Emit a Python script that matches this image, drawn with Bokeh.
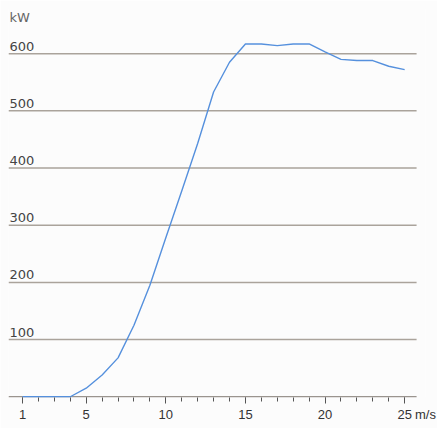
from bokeh.plotting import figure
from bokeh.models import FixedTicker, ColumnDataSource
from bokeh.core.properties import value
from bokeh.embed import file_html
from bokeh.resources import INLINE

wind_speed = [1, 2, 3, 4, 5, 6, 7, 8, 9, 10, 11, 12, 13, 14, 15, 16, 17, 18, 19, 20, 21, 22, 23, 24, 25]
power_kw = [0, 0, 0, 0, 15, 38, 68, 125, 195, 278, 360, 443, 533, 585, 617, 617, 614, 617, 617, 603, 590, 588, 588, 578, 572]
x_ticks = [1, 5, 10, 15, 20, 25]
x_minor = list(range(1, 26))
y_ticks = [100, 200, 300, 400, 500, 600]
y_tick_labels = ["100", "200", "300", "400", "500", "600"]
y_unit = "kW"
x_unit = "m/s"

X0, X1 = 0.12, 26.31
GRID_END = 25.75
Y0, Y1 = -1.3, 679

p = figure(width=437, height=428, x_range=(X0, X1), y_range=(Y0, Y1),
           output_backend="svg", toolbar_location=None,
           min_border_left=8, min_border_right=12, min_border_top=8, min_border_bottom=31)
p.background_fill_color = "#fcfcfc"
p.border_fill_color = "#fcfcfc"
p.outline_line_color = None

p.yaxis.visible = False
p.xgrid.visible = False
p.ygrid.visible = False

# horizontal grid lines and axis line, ending where the reference's end
p.segment(x0=[X0] * len(y_ticks), x1=[GRID_END] * len(y_ticks), y0=y_ticks, y1=y_ticks,
          line_color="#aaa39b", line_width=1.5)
p.segment(x0=[X0], x1=[GRID_END], y0=[0], y1=[0], line_color="#9a948e", line_width=1.5)

ax = p.xaxis[0]
ax.ticker = FixedTicker(ticks=x_ticks, minor_ticks=x_minor)
ax.axis_line_color = None
ax.major_tick_line_color = "#555555"
ax.minor_tick_line_color = "#555555"
ax.major_tick_line_width = 1
ax.minor_tick_line_width = 1
ax.major_tick_out = 6
ax.major_tick_in = 0
ax.minor_tick_out = 4
ax.minor_tick_in = 0
ax.major_label_standoff = 6
ax.major_label_text_font = "Liberation Sans"
ax.major_label_text_font_size = "13px"
ax.major_label_text_color = "#333333"
ax.axis_label = x_unit
ax.axis_label_align = "end"
ax.axis_label_standoff = -15
ax.axis_label_text_font = "Liberation Sans"
ax.axis_label_text_font_size = "13px"
ax.axis_label_text_font_style = "normal"
ax.axis_label_text_color = "#333333"

p.line(wind_speed, power_kw, line_color="#5590dd", line_width=1.4)

src = ColumnDataSource(dict(x=[X0] * len(y_ticks), y=y_ticks, t=y_tick_labels))
p.text(x="x", y="y", text="t", source=src, x_offset=1, y_offset=-3,
       text_baseline="bottom", text_align="left",
       text_font=value("DejaVu Sans"), text_font_size="13px", text_color="#444444")
p.text(x=[X0], y=[Y1], text=[y_unit], x_offset=1, y_offset=1,
       text_baseline="top", text_align="left",
       text_font=value("DejaVu Sans"), text_font_size="13px", text_color="#666666")

open("out.html", "w").write(file_html(p, INLINE))
